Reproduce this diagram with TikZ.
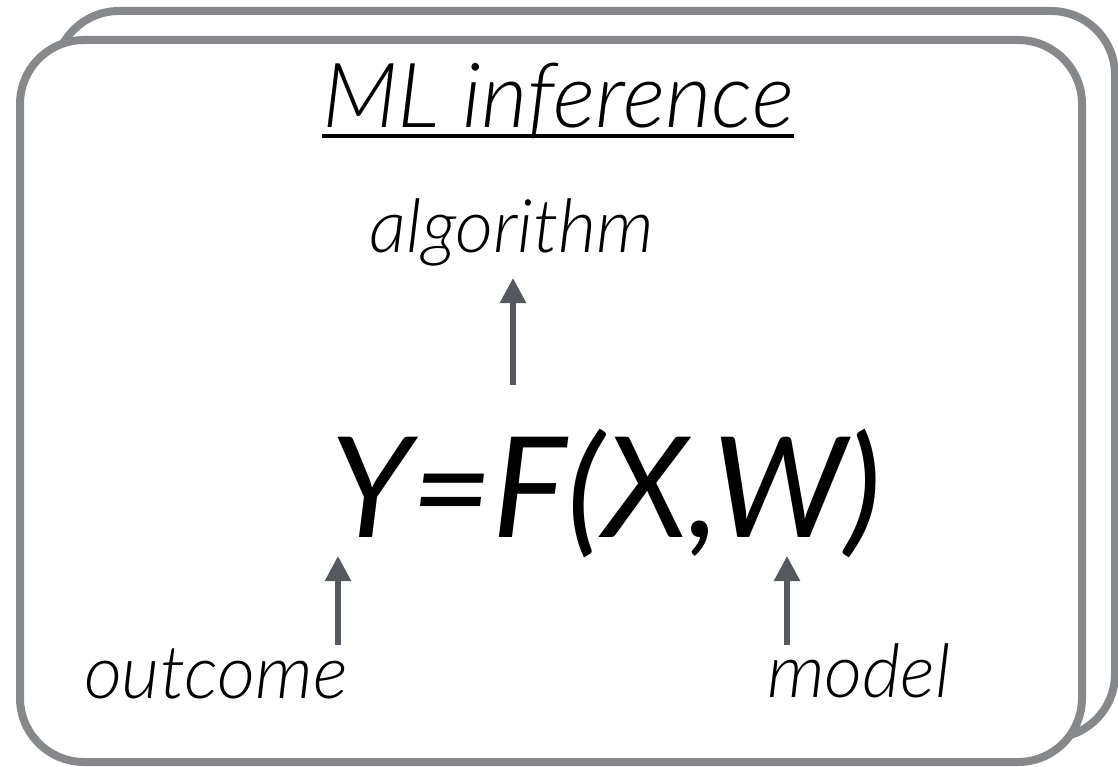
\documentclass[tikz,border=0pt]{standalone}
\usepackage{fontspec}
\setmainfont{Lato}[UprightFont=Lato-Light, ItalicFont=Lato-LightItalic, BoldFont=Lato-Regular, BoldItalicFont=Lato-Italic]
\usetikzlibrary{arrows.meta}
\definecolor{boxgray}{HTML}{86888B}
\definecolor{arrgray}{HTML}{55585F}
\tikzset{
  panel/.style={draw=boxgray, line width=8pt, fill=white, rounded corners=64pt},
  lbl/.style={inner sep=0pt, anchor=base, font=\itshape\fontsize{74}{80}\selectfont},
  ttl/.style={inner sep=0pt, anchor=base, font=\itshape\fontsize{90}{100}\selectfont},
  eqn/.style={inner sep=0pt, anchor=base, font=\bfseries\itshape\fontsize{140}{150}\selectfont},
  arr/.style={draw=arrgray, line width=5.5pt, -{Triangle[length=25pt,width=25pt]}}
}
\begin{document}
\begin{tikzpicture}[x=1pt,y=-1pt]
\useasboundingbox (0,0) rectangle (1118,767);
\draw[panel] (55,11) rectangle (1115,738);
\draw[panel] (20,40) rectangle (1082,762);
\node[ttl] (title) at (558,128) {ML inference};
\draw[line width=4pt] ([yshift=-8pt]title.base west) -- ([yshift=-8pt]title.base east);
\node[lbl] (algo) at (512,253) {algorithm};
\node[eqn] (eq) at (606,537) {Y=F(X,W)};
\node[lbl] (outc) at (216,698) {outcome};
\node[lbl] (model) at (859,697) {model};
\coordinate (a1) at (513,385);
\coordinate (a1t) at (513,278);
\coordinate (o1) at (338,645);
\coordinate (o1t) at (338,556);
\coordinate (m1) at (787,645);
\coordinate (m1t) at (787,556);
\draw[arr] (a1) -- (a1t);
\draw[arr] (o1) -- (o1t);
\draw[arr] (m1) -- (m1t);
\end{tikzpicture}
\end{document}
